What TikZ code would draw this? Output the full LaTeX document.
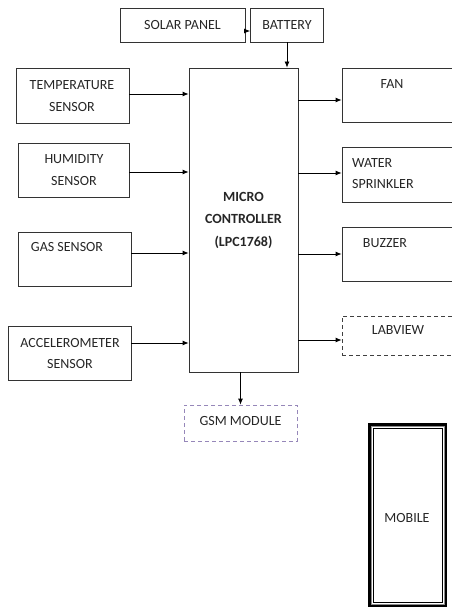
\documentclass[tikz,border=0pt]{standalone}
\usepackage{fontspec}
\setmainfont{Carlito}
\usetikzlibrary{arrows.meta}
\begin{document}
\begin{tikzpicture}[x=1pt,y=-1pt,
  box/.style={draw=black!80,line width=0.8pt,rectangle,inner sep=0pt},
  dbox/.style={draw=black!75,line width=0.8pt,dash pattern=on 4pt off 3pt,rectangle,inner sep=0pt},
  lbl/.style={font=\fontsize{14}{16}\selectfont,inner sep=0pt,align=center,text=black!85},
  two/.style={font=\fontsize{14}{21.5}\selectfont},
  arr/.style={line width=0.8pt,-{Latex[length=6pt,width=5pt]}}]
\useasboundingbox (0,0) rectangle (452,610);
% boxes
\node[box,minimum width=125pt,minimum height=34pt] (solar) at (182.5,25) {};
\node[box,minimum width=73pt,minimum height=34pt] (battery) at (287,25) {};
\node[box,minimum width=109pt,minimum height=304pt] (mc) at (243.5,220) {};
\node[box,minimum width=113pt,minimum height=55pt] (temp) at (72.5,95.5) {};
\node[box,minimum width=111pt,minimum height=54pt] (hum) at (73.5,170) {};
\node[box,minimum width=113pt,minimum height=54pt] (gas) at (74.5,259) {};
\node[box,minimum width=123pt,minimum height=54pt] (acc) at (69.5,353) {};
\node[box,minimum width=116pt,minimum height=54pt] (fan) at (400,95) {};
\node[box,minimum width=116pt,minimum height=55pt] (water) at (400,174.5) {};
\node[box,minimum width=116pt,minimum height=54pt] (buzz) at (400,254) {};
\node[dbox,minimum width=116pt,minimum height=39pt] (lab) at (400,335.5) {};
\node[dbox,draw={rgb,255:red,150;green,135;blue,185},minimum width=113pt,minimum height=36pt] (gsm) at (240.5,423) {};
\node[draw=black,line width=3pt,minimum width=76pt,minimum height=181pt,inner sep=0pt] (mob) at (407.5,515) {};
\draw[black!45,line width=0.6pt] (371,426) rectangle (444,604);
\draw[black,line width=0.6pt] (373,428) rectangle (442,602);
% texts
\node[lbl] at (solar.center) {SOLAR PANEL};
\node[lbl] at (battery.center) {BATTERY};
\node[lbl,font=\fontsize{14}{22.5}\selectfont\bfseries] at (mc.center) {MICRO\\CONTROLLER\\(LPC1768)};
\node[lbl,two] at (72,96) {TEMPERATURE\\SENSOR};
\node[lbl,two] at (74,170) {HUMIDITY\\SENSOR};
\node[lbl] at (67,247) {GAS SENSOR};
\node[lbl,two] at (70,353.5) {ACCELEROMETER\\SENSOR};
\node[lbl] at (392,84) {FAN};
\node[lbl,two,align=left,anchor=west] at (352,173.5) {WATER\\SPRINKLER};
\node[lbl] at (385,243) {BUZZER};
\node[lbl] at (398,330) {LABVIEW};
\node[lbl] at (240.5,421) {GSM MODULE};
\node[lbl] at (407,518) {MOBILE};
% arrows
\draw[arr] (solar.east |- 0,31) -- (battery.west |- 0,31);
\draw[arr] (battery.south) -- (battery.south |- mc.north);
\draw[arr] (temp.east |- 0,94) -- (mc.west |- 0,94);
\draw[arr] (hum.east |- 0,172) -- (mc.west |- 0,172);
\draw[arr] (gas.east |- 0,253) -- (mc.west |- 0,253);
\draw[arr] (acc.east |- 0,343) -- (mc.west |- 0,343);
\draw[arr] (mc.east |- 0,100) -- (fan.west |- 0,100);
\draw[arr] (mc.east |- 0,173) -- (water.west |- 0,173);
\draw[arr] (mc.east |- 0,254) -- (buzz.west |- 0,254);
\draw[arr] (mc.east |- 0,340) -- (lab.west |- 0,340);
\draw[arr] (mc.south -| gsm.north) -- (gsm.north);
\end{tikzpicture}
\end{document}
